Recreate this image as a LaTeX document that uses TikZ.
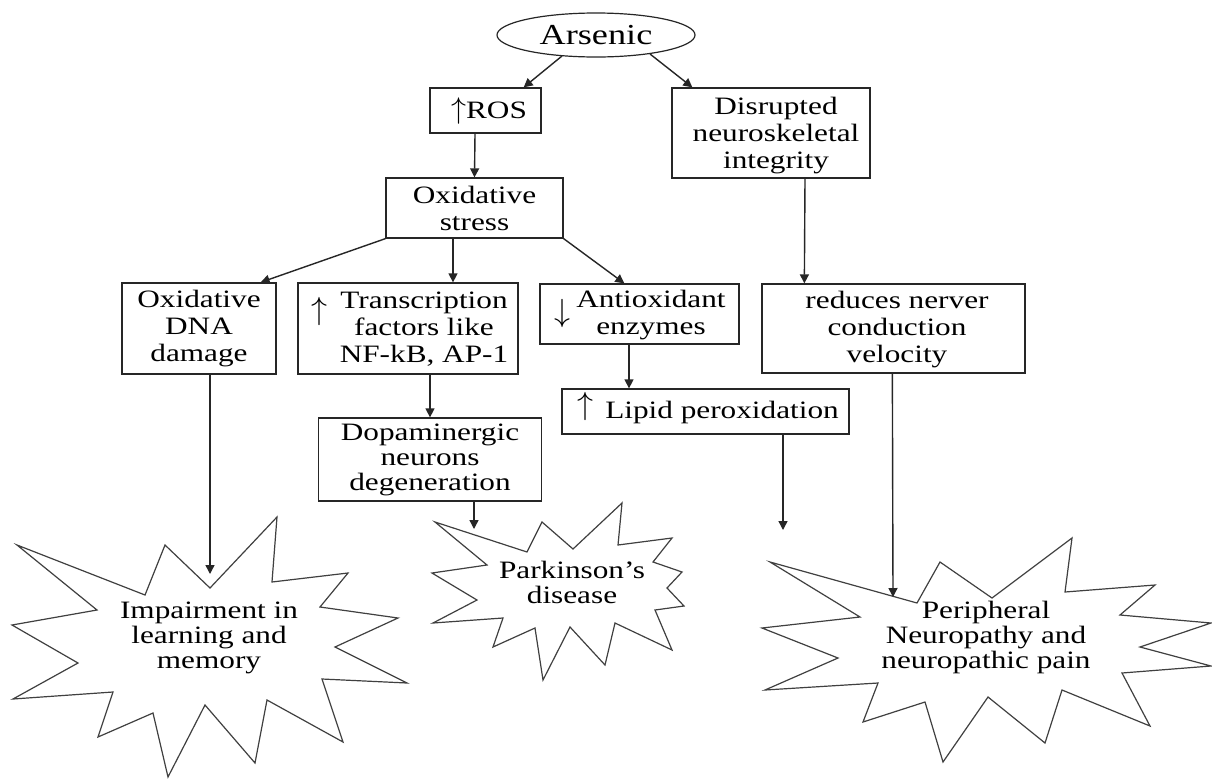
\documentclass[tikz,border=0pt]{standalone}
\usepackage{fix-cm}
\usepackage{fontspec}
\setmainfont[FakeStretch=1.25]{Liberation Serif}
\usetikzlibrary{arrows.meta,calc,shapes.geometric}
\begin{document}
\begin{tikzpicture}[x=1pt,y=-1pt,
  every node/.style={font=\fontsize{25}{27}\selectfont, text=black},
  box/.style={draw=black!85, line width=1.3pt, inner sep=0pt, align=center},
  lbl/.style={inner sep=0pt, align=center},
  starlbl/.style={inner sep=0pt, align=center, font=\fontsize{25}{25}\selectfont},
  glyph/.style={inner sep=0pt, font=\fontsize{32}{32}\selectfont},
  conn/.style={draw=black!85, line width=1.4pt, -{Triangle[length=9pt,width=9pt]}},
  burst/.style={draw=black!75, line width=1.2pt, line join=miter, miter limit=20}
]
\fill[white] (0,0) rectangle (1212,782);
\useasboundingbox (0,0) rectangle (1212,782);

% top
\node[ellipse, draw=black!85, line width=1.2pt, minimum width=198pt, minimum height=44pt, inner sep=0pt,
      font=\fontsize{29}{30}\selectfont] (arsenic) at (596,35) {Arsenic};
\node[box, minimum width=111pt, minimum height=45pt] (ros) at (485.5,110.5) {};
\node[lbl] (rostext) at (489,111) {{\fontsize{30}{30}\selectfont$\uparrow$}ROS};
\node[box, minimum width=198pt, minimum height=90pt] (disrupted) at (771,133) {};
\node[lbl] (disruptedtext) at (776,136) {Disrupted\\neuroskeletal\\integrity};
\node[box, minimum width=177pt, minimum height=60pt] (oxs) at (474.5,208) {Oxidative\\stress};

% second row
\node[box, minimum width=154pt, minimum height=91pt] (dna) at (199,328.5) {Oxidative\\DNA\\damage};
\node[box, minimum width=220pt, minimum height=91pt] (tf) at (408,328.5) {};
\node[lbl] (tftext) at (424,329) {Transcription\\factors like\\NF-kB, AP-1};
\node[glyph] (tfup) at (319,311) {$\uparrow$};
\node[box, minimum width=199pt, minimum height=60pt] (antiox) at (639.5,314) {};
\node[lbl] (antioxtext) at (651,315) {Antioxidant\\enzymes};
\node[glyph] (antioxdown) at (562,313) {$\downarrow$};
\node[box, minimum width=263pt, minimum height=89pt] (reduces) at (893.5,328.5) {};
\node[lbl] (reducestext) at (897,330) {reduces nerver\\conduction\\velocity};

% third row
\node[box, minimum width=287pt, minimum height=45pt] (lipid) at (705.5,411.5) {};
\node[lbl] (lipidtext) at (722,412) {Lipid peroxidation};
\node[glyph] (lipidup) at (585,406) {$\uparrow$};
\node[box, minimum width=223pt, minimum height=83pt, font=\fontsize{25}{25}\selectfont] (dopa) at (430,459.5) {Dopaminergic\\neurons\\degeneration};

% bursts
\draw[burst] (17,545) -- (145,595) -- (165,545) -- (210,588) -- (277,517) -- (272,582)
  -- (348,573) -- (320,607) -- (398,618) -- (335,647) -- (407,683) -- (322,679)
  -- (343,742) -- (267,700) -- (255,763) -- (205,705) -- (168,777) -- (153,713)
  -- (98,737) -- (113,692) -- (13,699) -- (78,663) -- (12,625) -- (97,610) -- cycle;
\draw[burst] (435,522) -- (527,552) -- (542,522) -- (573,549) -- (622,503) -- (618,545)
  -- (672,538) -- (653,562) -- (682,572) -- (667,588) -- (684,606) -- (655,610)
  -- (672,650) -- (615,623) -- (605,665) -- (570,627) -- (543,680) -- (535,628)
  -- (493,647) -- (503,618) -- (433,623) -- (477,600) -- (432,573) -- (487,565) -- cycle;
\draw[burst] (770,562) -- (917,603) -- (940,562) -- (992,598) -- (1072,538) -- (1065,592)
  -- (1155,585) -- (1120,615) -- (1211,623) -- (1140,647) -- (1211,666) -- (1122,673)
  -- (1150,726) -- (1062,690) -- (1045,743) -- (988,697) -- (943,762) -- (925,702)
  -- (863,722) -- (878,683) -- (765,690) -- (838,658) -- (762,628) -- (860,617) -- cycle;

\node[starlbl] (imp) at (209,638) {Impairment in\\learning and\\memory};
\node[starlbl] (park) at (572,582) {Parkinson’s\\disease};
\node[starlbl] (periph) at (986,637) {Peripheral\\Neuropathy and\\neuropathic pain};

\coordinate (s1top) at (210,574);
\coordinate (s2top) at (474,529);
\coordinate (lipend) at (783,530);
\coordinate (s3top) at (893,597);

% connectors
\draw[conn] ($(arsenic.center)+(-34,21)$) -- ($(ros.north east)+(-18,0)$);
\draw[conn] ($(arsenic.center)+(54,19)$) -- ($(disrupted.north west)+(21,0)$);
\draw[conn] ($(ros.south)+(-10.5,0)$) -- (oxs.north);
\draw[conn] (oxs.south west) -- ($(dna.north east)+(-16,0)$);
\draw[conn] ($(oxs.south)+(-21.5,0)$) -- ($(tf.north)+(45,0)$);
\draw[conn] (oxs.south east) -- ($(antiox.north west)+(85,0)$);
\draw[conn] ($(disrupted.south)+(34,0)$) -- ($(reduces.north west)+(43,0)$);
\draw[conn] ($(dna.south)+(11,0)$) -- (s1top);
\draw[conn] ($(tf.south)+(22,0)$) -- (dopa.north);
\draw[conn] ($(antiox.south)+(-10.5,0)$) -- ($(lipid.north)+(-76.5,0)$);
\draw[conn] ($(dopa.south)+(44,0)$) -- (s2top);
\draw[conn] ($(lipid.south)+(77.5,0)$) -- (lipend);
\draw[conn] ($(reduces.south west)+(131,0)$) -- (s3top);
\end{tikzpicture}
\end{document}
